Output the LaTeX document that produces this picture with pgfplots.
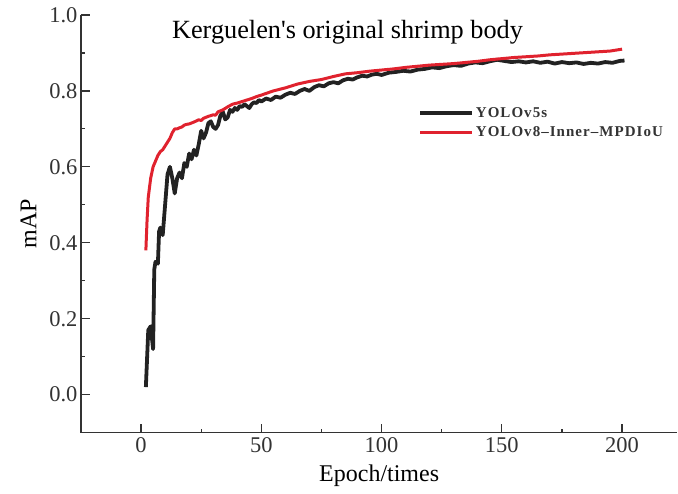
\documentclass[border=0pt]{standalone}
\usepackage{fontspec}
\setmainfont{Liberation Serif}
\usepackage{pgfplots}
\pgfplotsset{compat=1.18}
\definecolor{myred}{HTML}{E0222E}
\definecolor{myblack}{HTML}{222222}
\definecolor{axgray}{HTML}{333333}
\newfontfamily\legfont[LetterSpace=7]{Liberation Serif}
\begin{document}
\begin{tikzpicture}
\begin{axis}[
  scale only axis,
  width=597pt, height=418pt,
  xmin=-25, xmax=223, ymin=-0.1, ymax=1.0,
  axis x line*=bottom, axis y line*=left,
  axis line style={-, axgray, line width=1.2pt},
  tick align=inside,
  major tick length=9pt, minor tick length=4pt,
  tick style={axgray, line width=1.2pt},
  xtick={0,50,100,150,200},
  ytick={0,0.2,0.4,0.6,0.8,1.0},
  minor x tick num=1, minor y tick num=1,
  yticklabel style={/pgf/number format/.cd, fixed, fixed zerofill, precision=1},
  /pgf/number format/assume math mode=true,
  ticklabel style={font=\fontsize{22.5}{24}\selectfont, text=axgray},
  xticklabel style={yshift=-1pt},
  xlabel={Epoch/times}, ylabel={mAP},
  label style={font=\fontsize{24}{26}\selectfont},
  xlabel style={yshift=-6pt},
  ylabel style={yshift=6pt},
  title={Kerguelen\textquotesingle s original shrimp body},
  title style={at={(0.447,0.945)}, anchor=center, font=\fontsize{26.3}{28}\selectfont},
  legend style={at={(0.565,0.784)}, anchor=north west, draw=none, fill=none,
    font=\legfont\bfseries\fontsize{15}{17}\selectfont, text=axgray,
    row sep=4pt, inner sep=0pt},
  legend cell align=left,
  legend image code/.code={\draw[#1] (0pt,0pt) -- (52pt,0pt);},
  clip=false,
]
\addplot[myblack, line width=3.8pt, line join=round] coordinates {
(2,0.02) (3,0.17) (4,0.18) (5,0.12) (5.5,0.33) (6,0.35) (7,0.345) (7.5,0.43) (8,0.44) (9,0.42)
(10,0.50) (11,0.58) (12,0.60) (13,0.57) (14,0.53) (15,0.57) (16,0.585) (17,0.57) (18,0.61) (19,0.60)
(20,0.635) (21,0.62) (22,0.645) (23,0.63) (24,0.66) (25,0.695) (26,0.675) (27,0.69) (28,0.715) (29,0.72)
(30,0.705) (31,0.70) (32,0.71) (33,0.735) (34,0.745) (35,0.725) (36,0.73) (37,0.75) (38,0.745) (39,0.755)
(40,0.75) (41,0.76) (42,0.758) (43,0.765) (44,0.76) (45,0.755) (46,0.765) (47,0.77) (48,0.768) (49,0.776)
(50,0.772) (52,0.78) (54,0.776) (56,0.785) (58,0.782) (60,0.79) (62,0.795) (64,0.792) (66,0.80) (68,0.805)
(70,0.80) (72,0.81) (74,0.815) (76,0.812) (78,0.82) (80,0.823) (82,0.82) (84,0.828) (86,0.832) (88,0.83)
(90,0.836) (92,0.84) (94,0.838) (96,0.843) (98,0.845) (100,0.842) (103,0.848) (106,0.85) (109,0.853) (112,0.851)
(115,0.856) (118,0.858) (121,0.862) (124,0.86) (127,0.865) (130,0.868) (133,0.866) (136,0.872) (139,0.875) (142,0.873)
(145,0.878) (148,0.882) (151,0.879) (154,0.876) (157,0.878) (160,0.875) (163,0.878) (166,0.874) (169,0.877) (172,0.872)
(175,0.876) (178,0.873) (181,0.875) (184,0.871) (187,0.874) (190,0.872) (193,0.876) (196,0.874) (199,0.879) (201,0.88)
};
\addlegendentry{YOLOv5s}
\addplot[myred, line width=3pt, line join=round] coordinates {
(2,0.38) (2.5,0.46) (3,0.52) (4,0.57) (5,0.60) (6,0.615) (7,0.63) (8,0.64) (9,0.645) (10,0.655)
(11,0.665) (12,0.675) (13,0.69) (14,0.70) (15,0.70) (16,0.703) (17,0.705) (18,0.71) (19,0.712) (20,0.713)
(22,0.718) (24,0.724) (25,0.722) (26,0.728) (28,0.733) (30,0.737) (31,0.736) (32,0.745) (34,0.75) (36,0.758)
(38,0.765) (40,0.768) (42,0.772) (44,0.776) (46,0.780) (48,0.785) (50,0.789) (55,0.80) (60,0.808) (65,0.818)
(70,0.825) (75,0.83) (80,0.838) (85,0.845) (90,0.848) (95,0.852) (100,0.855) (105,0.858) (110,0.862) (115,0.865)
(120,0.868) (125,0.87) (130,0.872) (135,0.875) (140,0.878) (145,0.882) (150,0.885) (155,0.888) (160,0.89) (165,0.892)
(170,0.895) (175,0.897) (180,0.899) (185,0.901) (190,0.903) (195,0.905) (200,0.91)
};
\addlegendentry{YOLOv8\textendash Inner\textendash MPDIoU}
\end{axis}
\useasboundingbox ([xshift=-81pt,yshift=-61pt]current axis.south west) rectangle ([yshift=15pt]current axis.north east);
\end{tikzpicture}
\end{document}
